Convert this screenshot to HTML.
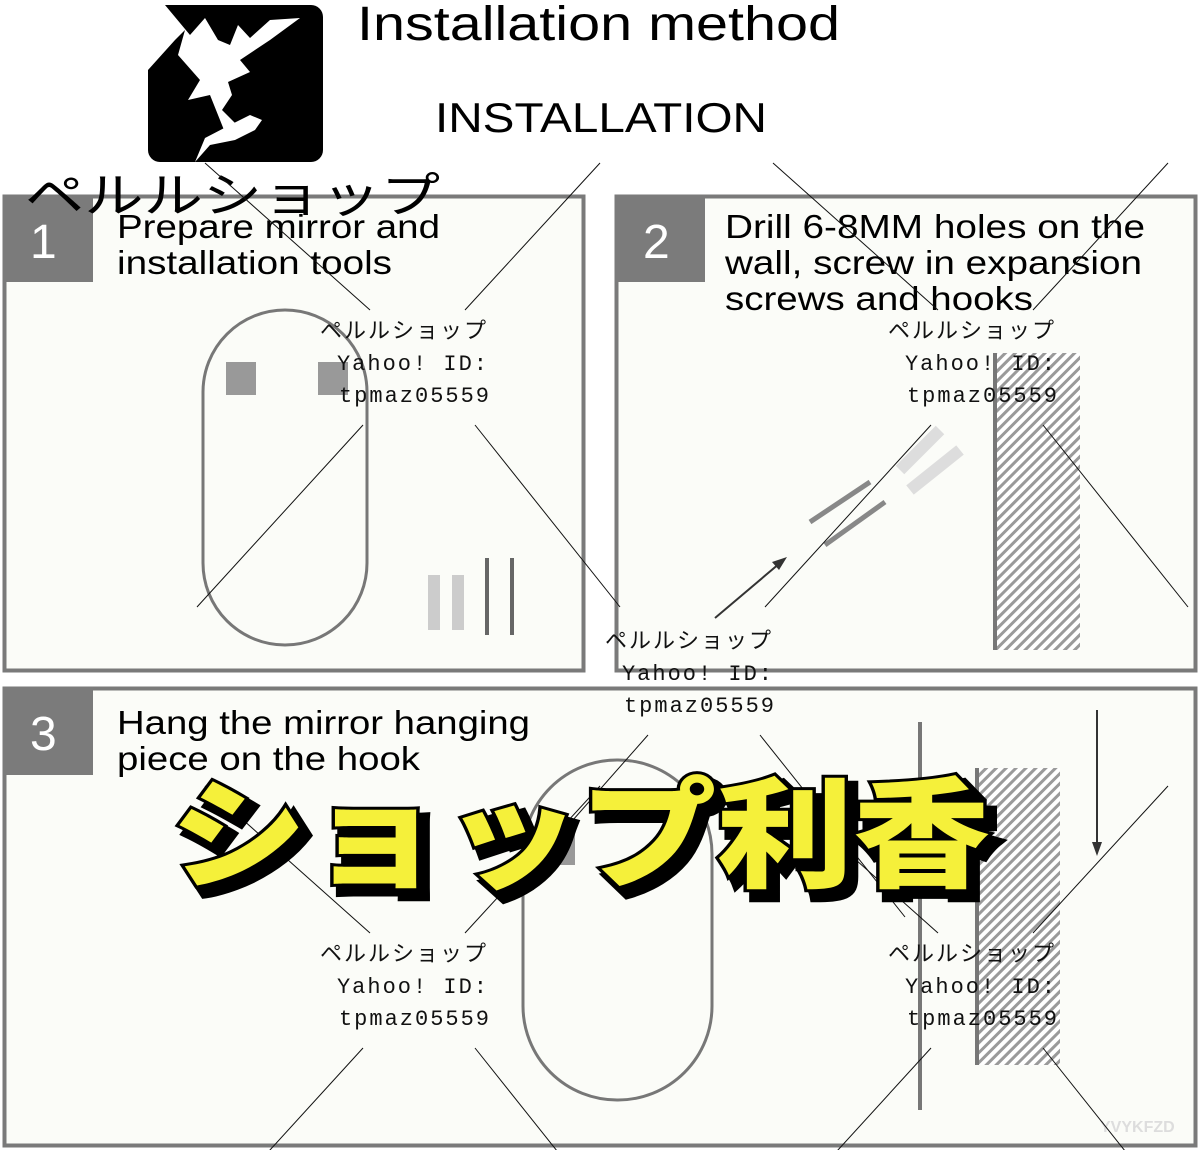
<!DOCTYPE html>
<html><head><meta charset="utf-8"><style>
html,body{margin:0;background:#fff;width:1200px;height:1150px;overflow:hidden}
svg{display:block}
.t{font-family:"Liberation Sans",sans-serif;fill:#000}
.w{font-family:"Liberation Mono","Noto Sans CJK JP",monospace;font-size:22px;fill:#111;letter-spacing:2px}
.big{font-family:"Noto Sans CJK JP",sans-serif;font-weight:900;font-size:120px}
</style></head><body>
<svg width="1200" height="1150" viewBox="0 0 1200 1150" xmlns="http://www.w3.org/2000/svg">
<defs>
<pattern id="h" width="7" height="7" patternUnits="userSpaceOnUse" patternTransform="rotate(45)">
<rect width="7" height="7" fill="#fff"/><rect width="3" height="7" fill="#9a9a9a"/></pattern>
</defs>
<rect width="1200" height="1150" fill="#fff"/>
<!-- logo -->
<rect x="148" y="5" width="175" height="157" rx="12" fill="#000"/>
<path d="M148 5 L148 70 L175 40 L185 30 L178 55 L200 80 L188 100 L210 95 L220 120 L228 140 L240 128 L222 110 L232 95 L228 82 L250 72 L240 60 L270 40 L300 18 L270 20 L250 38 L238 25 L230 45 L218 40 L205 18 L190 35 L165 5 Z" fill="#fff"/>
<path d="M195 162 L210 145 L235 140 L255 130 L262 120 L250 115 L230 125 L205 138 Z" fill="#fff"/>
<text x="357" y="40" class="t" font-size="48" textLength="483" lengthAdjust="spacingAndGlyphs">Installation method</text>
<text x="435" y="132" class="t" font-size="42" textLength="332" lengthAdjust="spacingAndGlyphs">INSTALLATION</text>
<!-- panels -->
<rect x="4.5" y="196.5" width="579" height="474" fill="#fbfcf8" stroke="#7a7a7a" stroke-width="4"/>
<rect x="616.5" y="196.5" width="579" height="474" fill="#fbfcf8" stroke="#7a7a7a" stroke-width="4"/>
<rect x="4.5" y="688.5" width="1191" height="457" fill="#fbfcf8" stroke="#7a7a7a" stroke-width="4"/>
<rect x="3" y="195" width="90" height="87" fill="#7b7b7b"/>
<rect x="615" y="195" width="90" height="87" fill="#7b7b7b"/>
<rect x="3" y="687" width="90" height="88" fill="#7b7b7b"/>
<g font-family="Liberation Sans,sans-serif" font-size="48" fill="#fff">
<text x="30" y="258">1</text><text x="643" y="258">2</text><text x="30" y="750">3</text></g>
<text x="25" y="212" font-family="Noto Sans CJK JP,sans-serif" font-size="48" fill="#000" textLength="415" lengthAdjust="spacingAndGlyphs">ペルルショップ</text>
<g class="t" font-size="33" lengthAdjust="spacingAndGlyphs">
<text x="117" y="238" textLength="323" lengthAdjust="spacingAndGlyphs">Prepare mirror and</text>
<text x="117" y="274" textLength="275" lengthAdjust="spacingAndGlyphs">installation tools</text>
<text x="725" y="238" textLength="420" lengthAdjust="spacingAndGlyphs">Drill 6-8MM holes on the</text>
<text x="725" y="274" textLength="417" lengthAdjust="spacingAndGlyphs">wall, screw in expansion</text>
<text x="725" y="310" textLength="308" lengthAdjust="spacingAndGlyphs">screws and hooks</text>
<text x="117" y="734" textLength="413" lengthAdjust="spacingAndGlyphs">Hang the mirror hanging</text>
<text x="117" y="770" textLength="303" lengthAdjust="spacingAndGlyphs">piece on the hook</text>
</g>
<!-- panel1 -->
<rect x="203" y="310" width="164" height="335" rx="82" fill="none" stroke="#777" stroke-width="3"/>
<rect x="226" y="362" width="30" height="33" fill="#999"/>
<rect x="318" y="362" width="30" height="33" fill="#999"/>
<g fill="#ccc"><rect x="428" y="575" width="12" height="55"/><rect x="452" y="575" width="12" height="55"/></g>
<g stroke="#666" stroke-width="4"><line x1="487" y1="558" x2="487" y2="635"/><line x1="512" y1="558" x2="512" y2="635"/></g>
<!-- panel2 -->
<rect x="997" y="353" width="83" height="297" fill="url(#h)"/>
<rect x="993" y="353" width="4" height="297" fill="#777"/>
<line x1="715" y1="618" x2="780" y2="563" stroke="#333" stroke-width="2"/>
<polygon points="787,557 772,562 779,570" fill="#333"/>
<g stroke="#888" stroke-width="5"><line x1="810" y1="522" x2="870" y2="482"/><line x1="825" y1="545" x2="885" y2="502"/></g>
<g stroke="#ddd" stroke-width="12"><line x1="900" y1="470" x2="940" y2="430"/><line x1="910" y1="490" x2="960" y2="450"/></g>
<!-- panel3 -->
<rect x="523" y="760" width="189" height="340" rx="94" fill="none" stroke="#777" stroke-width="3"/>
<rect x="545" y="830" width="30" height="35" fill="#999"/>
<rect x="978" y="768" width="82" height="297" fill="url(#h)"/>
<rect x="975" y="768" width="4" height="297" fill="#777"/>
<rect x="918" y="722" width="4" height="388" fill="#777"/>
<line x1="1097" y1="710" x2="1097" y2="845" stroke="#333" stroke-width="2"/>
<polygon points="1097,856 1092,842 1102,842" fill="#333"/>
<text x="1100" y="1132" font-family="Liberation Sans,sans-serif" font-weight="bold" font-size="16" fill="#ddd">YVYKFZD</text>
<!-- watermarks -->
<g stroke="#111" stroke-width="1">
<g id="x1"><line x1="205" y1="163" x2="370" y2="310"/><line x1="600" y1="163" x2="465" y2="310"/><line x1="363" y1="425" x2="197" y2="607"/><line x1="475" y1="425" x2="620" y2="607"/></g>
<use href="#x1" x="568"/><use href="#x1" y="623"/><use href="#x1" x="568" y="623"/>
<line x1="648" y1="735" x2="520" y2="880"/><line x1="760" y1="735" x2="905" y2="917"/>
</g>
<g class="w" text-anchor="middle">
<g id="w1"><text x="404" y="338">ペルルショップ</text><text x="413" y="370">Yahoo! ID:</text><text x="415" y="402">tpmaz05559</text></g>
<use href="#w1" x="568"/><use href="#w1" x="285" y="310"/><use href="#w1" y="623"/><use href="#w1" x="568" y="623"/>
</g>
<!-- big text -->
<g class="big">
<text x="178" y="886" fill="#000" stroke="#000" stroke-width="10" textLength="820" lengthAdjust="spacingAndGlyphs">ショップ利香</text>
<text x="170" y="878" fill="#f5f03a" stroke="#000" stroke-width="6" paint-order="stroke" textLength="820" lengthAdjust="spacingAndGlyphs">ショップ利香</text>
</g>
</svg>
</body></html>
